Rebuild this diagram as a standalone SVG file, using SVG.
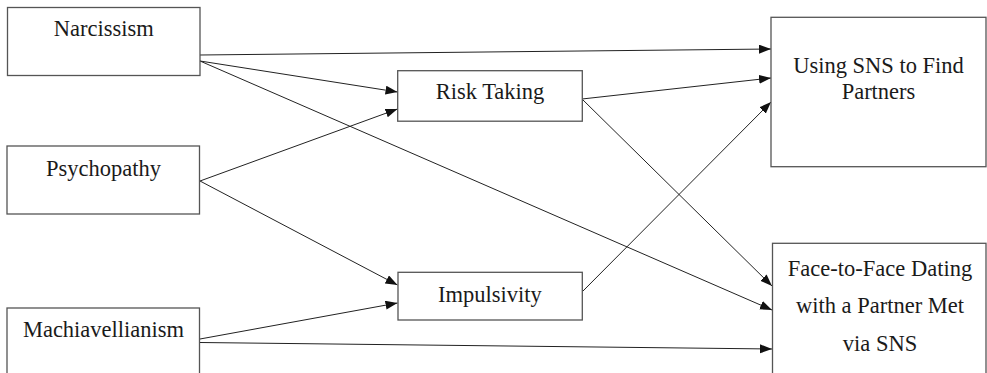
<svg xmlns="http://www.w3.org/2000/svg" width="987" height="373" viewBox="0 0 987 373">
<style>
.box{fill:#fff;stroke:#555;stroke-width:1.3}
.lbl{font-family:"Liberation Serif","Times New Roman",serif;font-size:22.5px;fill:#1a1a1a;text-anchor:middle}
.edge{stroke:#222;stroke-width:1;fill:none;marker-end:url(#ah)}
</style>
<defs>
<marker id="ah" markerUnits="userSpaceOnUse" markerWidth="14" markerHeight="10" refX="12" refY="4.5" orient="auto">
<path d="M0,0 L12,4.5 L0,9 Z" fill="#111"/>
</marker>
</defs>
<rect width="987" height="373" fill="#fff"/>
<g id="connectors">
<line class="edge" x1="200" y1="55" x2="771" y2="49"/>
<line class="edge" x1="200" y1="61" x2="397.5" y2="92"/>
<line class="edge" x1="200" y1="61" x2="772" y2="310"/>
<line class="edge" x1="200" y1="181" x2="397.5" y2="109"/>
<line class="edge" x1="200" y1="181" x2="397.5" y2="285"/>
<line class="edge" x1="200" y1="339" x2="397.5" y2="303"/>
<line class="edge" x1="200" y1="342.5" x2="772" y2="349"/>
<line class="edge" x1="582" y1="99" x2="771" y2="78"/>
<line class="edge" x1="582" y1="99" x2="772" y2="286"/>
<line class="edge" x1="582" y1="292" x2="771" y2="102"/>
</g>
<g id="narcissism">
<rect class="box" x="7.5" y="7.5" width="192.5" height="68"/>
<text class="lbl" x="103.7" y="36">Narcissism</text>
</g>
<g id="psychopathy">
<rect class="box" x="7" y="146" width="192.5" height="68"/>
<text class="lbl" x="103.5" y="175.5">Psychopathy</text>
</g>
<g id="machiavellianism">
<rect class="box" x="7" y="308" width="192.5" height="80"/>
<text class="lbl" x="103.5" y="337">Machiavellianism</text>
</g>
<g id="risk-taking">
<rect class="box" x="397.7" y="70.7" width="184.6" height="50.5"/>
<text class="lbl" x="490" y="99">Risk Taking</text>
</g>
<g id="impulsivity">
<rect class="box" x="398" y="272.3" width="184.3" height="47.7"/>
<text class="lbl" x="490" y="301.5">Impulsivity</text>
</g>
<g id="using-sns">
<rect class="box" x="771" y="17.3" width="215" height="149.4"/>
<text class="lbl" x="878.5" y="73">Using SNS to Find</text>
<text class="lbl" x="878.5" y="99">Partners</text>
</g>
<g id="face-to-face">
<rect class="box" x="772.5" y="243.3" width="213.5" height="140"/>
<text class="lbl" x="880" y="276">Face-to-Face Dating</text>
<text class="lbl" x="880" y="313">with a Partner Met</text>
<text class="lbl" x="880" y="350.5">via SNS</text>
</g>
</svg>
